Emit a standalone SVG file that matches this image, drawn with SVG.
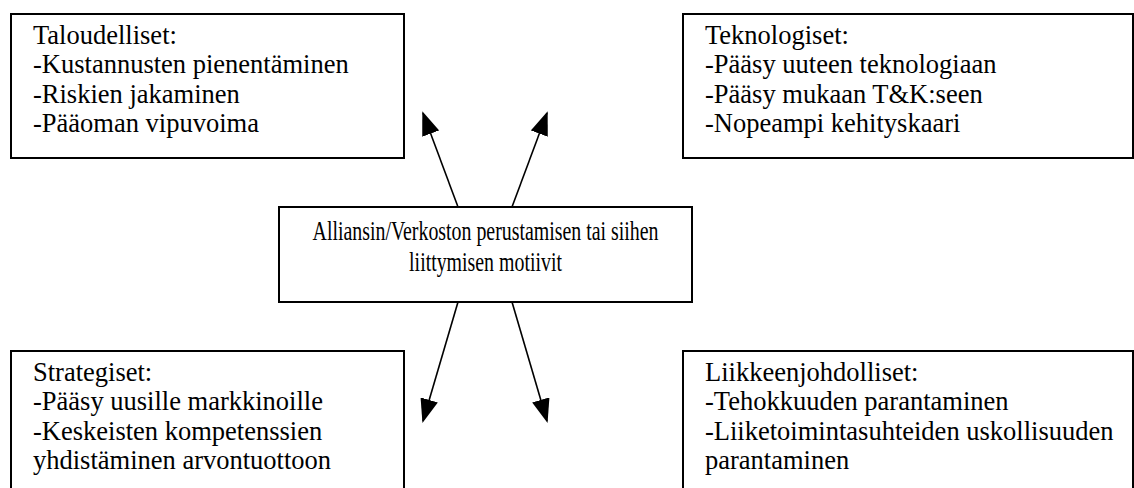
<svg xmlns="http://www.w3.org/2000/svg" width="1134" height="488" viewBox="0 0 1134 488">
  <style>
    .box { fill: #ffffff; stroke: #000000; stroke-width: 2; }
    .txt { font-family: "Liberation Serif", "Times New Roman", serif; font-size: 26.5px; fill: #000000; }
    .ctr { font-family: "Liberation Serif", "Times New Roman", serif; font-size: 26.5px; fill: #000000; text-anchor: middle; }
    .link { stroke: #000000; stroke-width: 1.6; fill: none; marker-end: url(#head); }
  </style>
  <defs>
    <marker id="head" viewBox="0 0 24 18" refX="22" refY="9" markerWidth="24" markerHeight="18" orient="auto" markerUnits="userSpaceOnUse">
      <path d="M0,0 L24,9 L0,18 z" fill="#000000"/>
    </marker>
  </defs>
  <rect width="1134" height="488" fill="#ffffff"/>

  <!-- Connectors from the central motive box to the four categories -->
  <g id="connectors">
    <line class="link" x1="458" y1="207" x2="423" y2="113"/>
    <line class="link" x1="512" y1="207" x2="547" y2="113"/>
    <line class="link" x1="458" y1="302" x2="423" y2="421"/>
    <line class="link" x1="512" y1="302" x2="547" y2="421"/>
  </g>

  <g id="taloudelliset">
    <rect class="box" x="11" y="14" width="393" height="144"/>
    <text class="txt" x="33" y="44">Taloudelliset:</text>
    <text class="txt" x="33" y="73.3">-Kustannusten pienentäminen</text>
    <text class="txt" x="33" y="102.6">-Riskien jakaminen</text>
    <text class="txt" x="33" y="131.9">-Pääoman vipuvoima</text>
  </g>

  <g id="teknologiset">
    <rect class="box" x="683" y="14" width="450" height="144"/>
    <text class="txt" x="705" y="44">Teknologiset:</text>
    <text class="txt" x="705" y="73.3">-Pääsy uuteen teknologiaan</text>
    <text class="txt" x="705" y="102.6">-Pääsy mukaan T&amp;K:seen</text>
    <text class="txt" x="705" y="131.9">-Nopeampi kehityskaari</text>
  </g>

  <g id="motiivit">
    <rect class="box" x="279" y="207" width="413" height="95"/>
    <!-- condensed title lettering -->
    <g transform="translate(485.5,0) scale(0.75,1)">
      <text class="ctr" x="0" y="240.5">Alliansin/Verkoston perustamisen tai siihen</text>
      <text class="ctr" x="0" y="271">liittymisen motiivit</text>
    </g>
  </g>

  <g id="strategiset">
    <rect class="box" x="11" y="351" width="393" height="150"/>
    <text class="txt" x="33" y="381">Strategiset:</text>
    <text class="txt" x="33" y="410.3">-Pääsy uusille markkinoille</text>
    <text class="txt" x="33" y="439.6">-Keskeisten kompetenssien</text>
    <text class="txt" x="33" y="468.9">yhdistäminen arvontuottoon</text>
  </g>

  <g id="liikkeenjohdolliset">
    <rect class="box" x="683" y="351" width="450" height="150"/>
    <text class="txt" x="705" y="381">Liikkeenjohdolliset:</text>
    <text class="txt" x="705" y="410.3">-Tehokkuuden parantaminen</text>
    <text class="txt" x="705" y="439.6">-Liiketoimintasuhteiden uskollisuuden</text>
    <text class="txt" x="705" y="468.9">parantaminen</text>
  </g>
</svg>
